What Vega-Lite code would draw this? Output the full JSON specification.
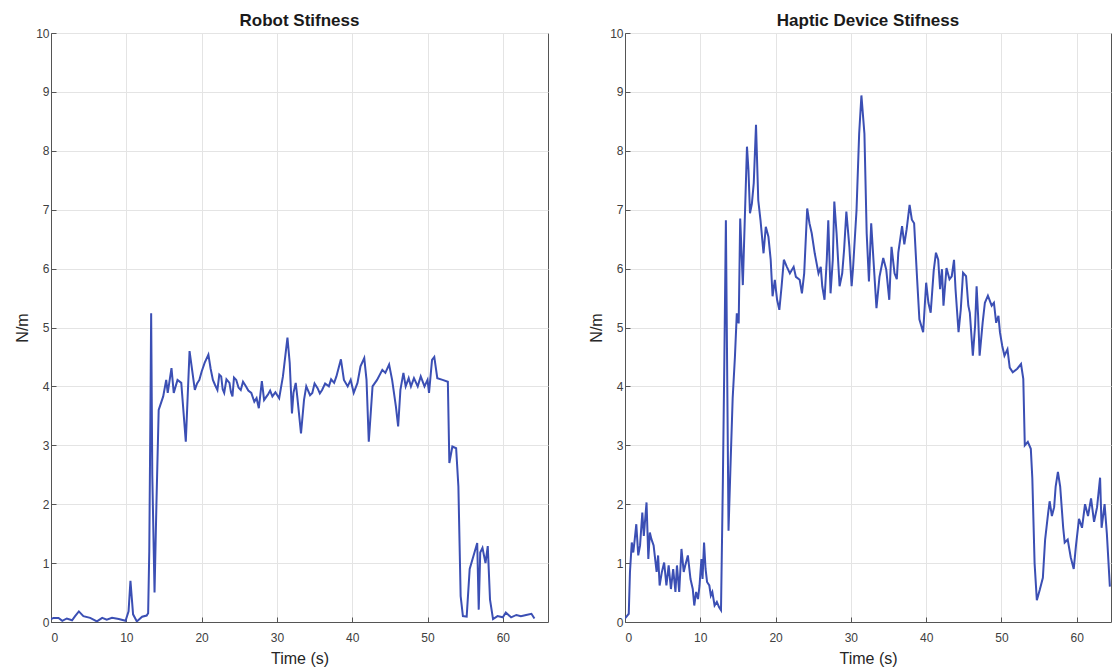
{
  "$schema": "https://vega.github.io/schema/vega-lite/v6.json",
  "padding": {"left": 14, "top": 11, "right": 0, "bottom": 0},
  "spacing": 39,
  "datasets": {
    "robot": [
      {"t":0,"v":0.05},{"t":0.35,"v":0.07},{"t":1.0,"v":0.07},{"t":1.5,"v":0.02},{"t":2.1,"v":0.06},{"t":2.8,"v":0.03},{"t":3.2,"v":0.1},{"t":3.7,"v":0.18},{"t":4.3,"v":0.1},{"t":5.2,"v":0.07},{"t":6.1,"v":0.01},{"t":6.8,"v":0.07},{"t":7.4,"v":0.04},{"t":8.1,"v":0.07},{"t":9.0,"v":0.05},{"t":9.9,"v":0.02},{"t":10.3,"v":0.18},{"t":10.55,"v":0.7},{"t":10.9,"v":0.13},{"t":11.4,"v":0.01},{"t":12.1,"v":0.09},{"t":12.7,"v":0.11},{"t":12.9,"v":0.15},{"t":13.05,"v":1.2},{"t":13.2,"v":3.5},{"t":13.3,"v":5.24},{"t":13.45,"v":2.5},{"t":13.75,"v":0.5},{"t":14.0,"v":2.0},{"t":14.3,"v":3.6},{"t":14.9,"v":3.83},{"t":15.3,"v":4.11},{"t":15.5,"v":3.89},{"t":16.0,"v":4.31},{"t":16.3,"v":3.89},{"t":16.8,"v":4.11},{"t":17.3,"v":4.06},{"t":17.9,"v":3.06},{"t":18.4,"v":4.6},{"t":19.1,"v":3.94},{"t":19.4,"v":4.05},{"t":19.7,"v":4.11},{"t":20.0,"v":4.25},{"t":20.4,"v":4.4},{"t":20.9,"v":4.54},{"t":21.2,"v":4.3},{"t":21.5,"v":4.11},{"t":21.8,"v":4.02},{"t":22.1,"v":3.94},{"t":22.35,"v":4.2},{"t":22.6,"v":4.17},{"t":22.8,"v":3.95},{"t":23.0,"v":3.89},{"t":23.3,"v":4.12},{"t":23.7,"v":4.06},{"t":23.9,"v":3.9},{"t":24.1,"v":3.83},{"t":24.3,"v":4.15},{"t":24.6,"v":4.11},{"t":24.9,"v":3.98},{"t":25.2,"v":3.94},{"t":25.5,"v":4.08},{"t":25.9,"v":4.0},{"t":26.2,"v":3.93},{"t":26.6,"v":3.89},{"t":27.0,"v":3.74},{"t":27.3,"v":3.8},{"t":27.6,"v":3.63},{"t":28.0,"v":4.09},{"t":28.3,"v":3.77},{"t":28.8,"v":3.86},{"t":29.1,"v":3.93},{"t":29.4,"v":3.83},{"t":29.8,"v":3.9},{"t":30.3,"v":3.8},{"t":30.8,"v":4.17},{"t":31.4,"v":4.83},{"t":31.7,"v":4.4},{"t":32.0,"v":3.54},{"t":32.2,"v":3.89},{"t":32.5,"v":4.06},{"t":32.7,"v":3.83},{"t":33.2,"v":3.2},{"t":33.6,"v":3.77},{"t":33.9,"v":4.0},{"t":34.1,"v":3.94},{"t":34.4,"v":3.85},{"t":34.7,"v":3.89},{"t":35.0,"v":4.05},{"t":35.4,"v":3.97},{"t":35.7,"v":3.88},{"t":36.0,"v":3.94},{"t":36.4,"v":4.05},{"t":36.9,"v":4.0},{"t":37.2,"v":4.12},{"t":37.6,"v":4.06},{"t":37.9,"v":4.17},{"t":38.5,"v":4.46},{"t":38.9,"v":4.11},{"t":39.4,"v":4.0},{"t":39.8,"v":4.11},{"t":40.2,"v":3.89},{"t":40.7,"v":4.06},{"t":41.1,"v":4.34},{"t":41.6,"v":4.48},{"t":41.9,"v":4.11},{"t":42.2,"v":3.06},{"t":42.7,"v":4.0},{"t":43.3,"v":4.11},{"t":44.0,"v":4.28},{"t":44.4,"v":4.23},{"t":44.9,"v":4.37},{"t":45.3,"v":4.11},{"t":45.8,"v":3.66},{"t":46.1,"v":3.32},{"t":46.4,"v":3.94},{"t":46.8,"v":4.23},{"t":47.1,"v":4.0},{"t":47.5,"v":4.14},{"t":47.8,"v":4.0},{"t":48.2,"v":4.14},{"t":48.7,"v":4.0},{"t":49.1,"v":4.17},{"t":49.6,"v":4.0},{"t":50.0,"v":4.11},{"t":50.2,"v":3.89},{"t":50.6,"v":4.45},{"t":50.9,"v":4.5},{"t":51.3,"v":4.14},{"t":52.0,"v":4.11},{"t":52.7,"v":4.08},{"t":52.9,"v":2.7},{"t":53.3,"v":2.98},{"t":53.8,"v":2.95},{"t":54.1,"v":2.3},{"t":54.4,"v":0.44},{"t":54.7,"v":0.1},{"t":55.2,"v":0.09},{"t":55.6,"v":0.9},{"t":56.1,"v":1.12},{"t":56.6,"v":1.34},{"t":56.8,"v":0.21},{"t":57.0,"v":1.18},{"t":57.3,"v":1.26},{"t":57.7,"v":1.0},{"t":58.0,"v":1.29},{"t":58.3,"v":0.38},{"t":58.7,"v":0.05},{"t":59.3,"v":0.1},{"t":60.0,"v":0.08},{"t":60.4,"v":0.16},{"t":61.1,"v":0.08},{"t":61.8,"v":0.12},{"t":62.4,"v":0.1},{"t":63.1,"v":0.12},{"t":63.8,"v":0.14},{"t":64.2,"v":0.06}
    ],
    "haptic": [
      {"t":0,"v":0.06},{"t":0.3,"v":0.11},{"t":0.5,"v":0.14},{"t":0.66,"v":0.85},{"t":0.9,"v":1.35},{"t":1.1,"v":1.18},{"t":1.3,"v":1.41},{"t":1.5,"v":1.66},{"t":1.76,"v":1.13},{"t":2.0,"v":1.3},{"t":2.3,"v":1.86},{"t":2.5,"v":1.46},{"t":2.86,"v":2.03},{"t":3.1,"v":1.07},{"t":3.3,"v":1.52},{"t":3.5,"v":1.41},{"t":3.8,"v":1.3},{"t":4.2,"v":0.85},{"t":4.4,"v":1.13},{"t":4.6,"v":0.62},{"t":4.9,"v":0.85},{"t":5.2,"v":1.01},{"t":5.5,"v":0.62},{"t":5.8,"v":0.96},{"t":6.1,"v":0.56},{"t":6.4,"v":0.9},{"t":6.7,"v":0.51},{"t":6.9,"v":0.96},{"t":7.2,"v":0.51},{"t":7.5,"v":1.24},{"t":7.8,"v":0.85},{"t":8.0,"v":0.96},{"t":8.35,"v":1.13},{"t":8.7,"v":0.73},{"t":9.0,"v":0.56},{"t":9.2,"v":0.28},{"t":9.45,"v":0.51},{"t":9.7,"v":0.39},{"t":9.9,"v":0.62},{"t":10.15,"v":1.07},{"t":10.3,"v":0.73},{"t":10.5,"v":1.35},{"t":10.7,"v":0.9},{"t":10.9,"v":0.68},{"t":11.2,"v":0.62},{"t":11.4,"v":0.45},{"t":11.6,"v":0.51},{"t":11.9,"v":0.28},{"t":12.2,"v":0.34},{"t":12.5,"v":0.25},{"t":12.75,"v":0.2},{"t":13.0,"v":2.4},{"t":13.2,"v":4.5},{"t":13.4,"v":6.82},{"t":13.75,"v":1.55},{"t":14.0,"v":2.6},{"t":14.3,"v":3.8},{"t":14.6,"v":4.5},{"t":14.85,"v":5.24},{"t":15.1,"v":5.07},{"t":15.3,"v":6.85},{"t":15.65,"v":5.72},{"t":16.2,"v":8.07},{"t":16.4,"v":7.67},{"t":16.6,"v":6.94},{"t":16.85,"v":7.1},{"t":17.1,"v":7.45},{"t":17.4,"v":8.44},{"t":17.7,"v":7.16},{"t":18.0,"v":6.82},{"t":18.4,"v":6.26},{"t":18.7,"v":6.71},{"t":19.05,"v":6.54},{"t":19.35,"v":6.15},{"t":19.6,"v":5.53},{"t":19.9,"v":5.81},{"t":20.2,"v":5.47},{"t":20.5,"v":5.3},{"t":20.8,"v":5.7},{"t":21.1,"v":6.15},{"t":21.5,"v":6.03},{"t":21.9,"v":5.92},{"t":22.4,"v":6.03},{"t":22.7,"v":5.86},{"t":23.2,"v":5.81},{"t":23.5,"v":5.58},{"t":23.8,"v":5.92},{"t":24.2,"v":7.02},{"t":24.5,"v":6.77},{"t":24.8,"v":6.6},{"t":25.2,"v":6.26},{"t":25.7,"v":5.92},{"t":26.0,"v":6.03},{"t":26.2,"v":5.7},{"t":26.5,"v":5.47},{"t":26.8,"v":6.15},{"t":27.0,"v":6.82},{"t":27.3,"v":5.58},{"t":27.6,"v":6.15},{"t":27.8,"v":7.14},{"t":28.1,"v":6.6},{"t":28.5,"v":5.7},{"t":28.85,"v":5.92},{"t":29.1,"v":6.32},{"t":29.4,"v":6.97},{"t":29.8,"v":6.37},{"t":30.1,"v":5.7},{"t":30.3,"v":6.03},{"t":30.75,"v":6.99},{"t":31.1,"v":8.29},{"t":31.4,"v":8.94},{"t":31.8,"v":8.29},{"t":32.1,"v":6.6},{"t":32.4,"v":5.78},{"t":32.7,"v":6.77},{"t":33.0,"v":6.15},{"t":33.4,"v":5.33},{"t":33.8,"v":5.86},{"t":34.3,"v":6.18},{"t":34.7,"v":5.98},{"t":35.1,"v":5.47},{"t":35.4,"v":6.37},{"t":35.8,"v":5.92},{"t":36.1,"v":5.82},{"t":36.3,"v":6.27},{"t":36.8,"v":6.72},{"t":37.1,"v":6.41},{"t":37.4,"v":6.66},{"t":37.8,"v":7.08},{"t":38.1,"v":6.83},{"t":38.4,"v":6.77},{"t":38.8,"v":5.82},{"t":39.1,"v":5.14},{"t":39.6,"v":4.92},{"t":40.0,"v":5.76},{"t":40.3,"v":5.42},{"t":40.6,"v":5.25},{"t":41.0,"v":5.96},{"t":41.3,"v":6.27},{"t":41.6,"v":6.15},{"t":41.85,"v":5.65},{"t":42.1,"v":5.99},{"t":42.3,"v":5.37},{"t":42.7,"v":6.01},{"t":43.1,"v":5.82},{"t":43.4,"v":5.87},{"t":43.7,"v":6.15},{"t":43.9,"v":5.65},{"t":44.3,"v":4.92},{"t":44.6,"v":5.31},{"t":44.9,"v":5.93},{"t":45.3,"v":5.87},{"t":45.6,"v":5.37},{"t":45.8,"v":5.25},{"t":46.2,"v":4.52},{"t":46.5,"v":5.03},{"t":46.7,"v":5.7},{"t":46.9,"v":5.2},{"t":47.1,"v":4.52},{"t":47.5,"v":5.08},{"t":47.8,"v":5.42},{"t":48.2,"v":5.54},{"t":48.7,"v":5.37},{"t":49.0,"v":5.42},{"t":49.3,"v":5.08},{"t":49.6,"v":5.2},{"t":49.8,"v":4.92},{"t":50.1,"v":4.69},{"t":50.4,"v":4.52},{"t":50.8,"v":4.63},{"t":51.1,"v":4.32},{"t":51.5,"v":4.24},{"t":52.1,"v":4.3},{"t":52.6,"v":4.38},{"t":52.9,"v":4.13},{"t":53.1,"v":3.0},{"t":53.5,"v":3.06},{"t":53.9,"v":2.94},{"t":54.1,"v":2.44},{"t":54.4,"v":1.0},{"t":54.7,"v":0.37},{"t":55.1,"v":0.55},{"t":55.5,"v":0.75},{"t":55.8,"v":1.4},{"t":56.2,"v":1.85},{"t":56.4,"v":2.05},{"t":56.7,"v":1.8},{"t":57.0,"v":1.95},{"t":57.2,"v":2.3},{"t":57.5,"v":2.55},{"t":57.8,"v":2.3},{"t":58.2,"v":1.6},{"t":58.4,"v":1.35},{"t":58.8,"v":1.4},{"t":59.2,"v":1.1},{"t":59.6,"v":0.9},{"t":59.9,"v":1.3},{"t":60.3,"v":1.75},{"t":60.7,"v":1.6},{"t":61.1,"v":2.0},{"t":61.5,"v":1.8},{"t":61.9,"v":2.1},{"t":62.3,"v":1.7},{"t":62.7,"v":1.95},{"t":63.1,"v":2.45},{"t":63.3,"v":1.6},{"t":63.7,"v":2.0},{"t":64.0,"v":1.5},{"t":64.4,"v":0.6}
    ]
  },
  "hconcat": [
    {
      "title": "Robot Stifness",
      "width": 497,
      "height": 589,
      "data": {"name": "robot"},
      "mark": {"type": "line", "color": "#3b4fb4", "strokeWidth": 2, "clip": true},
      "encoding": {
        "x": {"field": "t", "type": "quantitative", "title": "Time (s)", "scale": {"domain": [0, 66], "nice": false, "zero": false}, "axis": {"values": [0,10,20,30,40,50,60]}},
        "y": {"field": "v", "type": "quantitative", "title": "N/m", "scale": {"domain": [0, 10], "nice": false}, "axis": {"values": [0,1,2,3,4,5,6,7,8,9,10]}}
      }
    },
    {
      "title": "Haptic Device Stifness",
      "width": 486,
      "height": 589,
      "data": {"name": "haptic"},
      "mark": {"type": "line", "color": "#3b4fb4", "strokeWidth": 2, "clip": true},
      "encoding": {
        "x": {"field": "t", "type": "quantitative", "title": "Time (s)", "scale": {"domain": [0, 64.55], "nice": false, "zero": false}, "axis": {"values": [0,10,20,30,40,50,60]}},
        "y": {"field": "v", "type": "quantitative", "title": "N/m", "scale": {"domain": [0, 10], "nice": false}, "axis": {"values": [0,1,2,3,4,5,6,7,8,9,10]}}
      }
    }
  ],
  "config": {
    "view": {"stroke": "#555555", "strokeWidth": 1},
    "axis": {
      "grid": true, "gridColor": "#e4e4e4", "gridWidth": 1,
      "domainColor": "#555555", "domainWidth": 1,
      "ticks": true, "tickSize": -5, "tickColor": "#555555",
      "labelFont": "Liberation Sans", "labelFontSize": 12, "labelColor": "#404040",
      "titleFont": "Liberation Sans", "titleFontSize": 16, "titleFontWeight": "normal", "titleColor": "#262626"
    },
    "axisX": {"labelPadding": 15, "titlePadding": 7},
    "axisY": {"labelPadding": 7, "titlePadding": 5},
    "title": {"font": "Liberation Sans", "fontSize": 17, "fontWeight": "bold", "color": "#1a1a1a", "offset": -3, "anchor": "middle"}
  }
}
